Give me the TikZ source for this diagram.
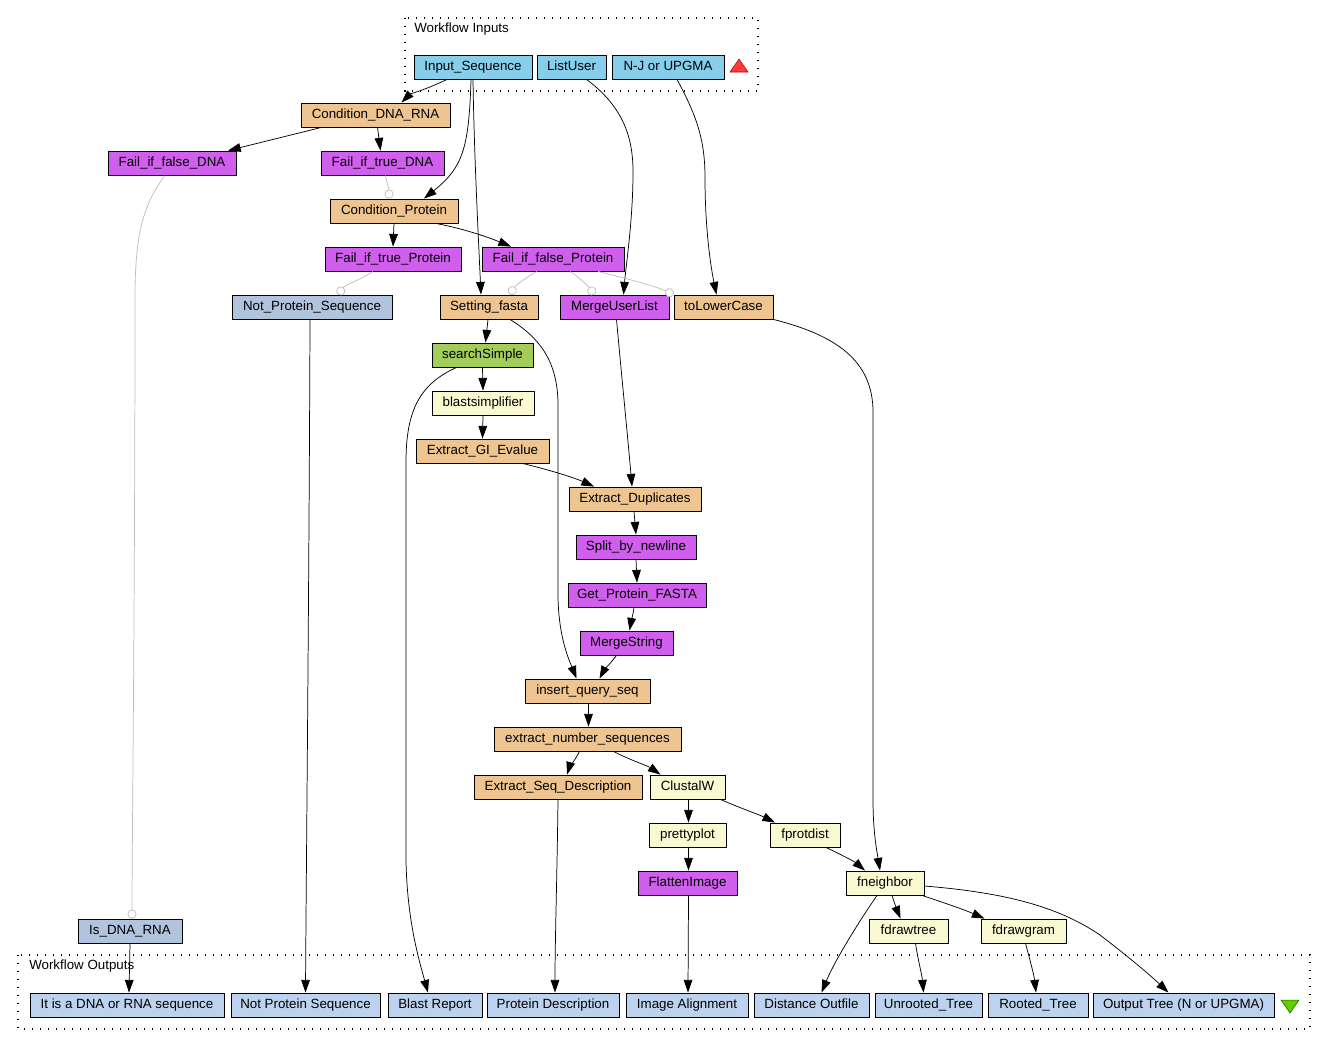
\documentclass[tikz,border=0pt]{standalone}
\usepackage{fontspec}
\setmainfont{Liberation Sans}
\usetikzlibrary{arrows.meta,calc}
\definecolor{inblue}{HTML}{87CEEB}
\definecolor{beige}{HTML}{EEC591}
\definecolor{purp}{HTML}{D15FEE}
\definecolor{steel}{HTML}{B0C4DE}
\definecolor{outblue}{HTML}{BCD2EE}
\definecolor{lgreen}{HTML}{A2CD5A}
\definecolor{lyellow}{HTML}{FAFAD2}
\definecolor{ctrlgray}{HTML}{BEBEBE}
\definecolor{redtri}{HTML}{FF3B3B}
\definecolor{greentri}{HTML}{66CC00}
\begin{document}
\begin{tikzpicture}[x=0.75pt,y=-0.75pt,
  box/.style={draw=black,line width=0.65pt,minimum height=18pt,inner sep=0pt,
    font=\fontsize{10}{12}\selectfont,text height=7.4pt,text depth=2.1pt},
  bw/.style={minimum width=#1*0.75pt},
  inbox/.style={box,fill=inblue},
  orbox/.style={box,fill=beige},
  pubox/.style={box,fill=purp},
  stbox/.style={box,fill=steel},
  outbox/.style={box,fill=outblue},
  grbox/.style={box,fill=lgreen},
  yebox/.style={box,fill=lyellow},
  flow/.style={-{Triangle[length=9.5pt,width=6.5pt]},line width=0.55pt},
  ctl/.style={-{Circle[open,length=6.75pt,fill=white]},draw=ctrlgray,line width=0.55pt},
  cluster/.style={line width=0.9pt,dash pattern=on 0.9pt off 5.1pt},
  lbl/.style={anchor=west,inner sep=0pt,font=\fontsize{10}{12}\selectfont}
]
\useasboundingbox[fill=white] (0,0) rectangle (1327,1057);

% clusters
\draw[cluster] (405,18) rectangle (758,91);
\node[lbl] (inlbl) at (414,29) {Workflow Inputs};
\draw[cluster] (18,955) rectangle (1310,1029);
\node[lbl] (outlbl) at (29,966) {Workflow Outputs};

% triangles
\filldraw[fill=redtri,draw=red!70!black,line width=0.4pt] (730,72) -- (748,72) -- (739,59) -- cycle;
\filldraw[fill=greentri,draw=green!40!black,line width=0.4pt] (1281,1000) -- (1299,1000) -- (1290,1013) -- cycle;

% inputs
\node[inbox,bw=118] (inseq) at (473,67) {Input\_Sequence};
\node[inbox,bw=69] (listuser) at (571.5,67) {ListUser};
\node[inbox,bw=112] (nj) at (668,67) {N-J or UPGMA};

% processors
\node[orbox,bw=149] (cdna) at (375.5,115) {Condition\_DNA\_RNA};
\node[pubox,bw=128] (ffdna) at (172,163) {Fail\_if\_false\_DNA};
\node[pubox,bw=123] (ftdna) at (382.5,163) {Fail\_if\_true\_DNA};
\node[orbox,bw=128] (cprot) at (394,211) {Condition\_Protein};
\node[pubox,bw=136] (ftprot) at (393,259) {Fail\_if\_true\_Protein};
\node[pubox,bw=142] (ffprot) at (553,259) {Fail\_if\_false\_Protein};
\node[stbox,bw=160] (nps) at (312,307) {Not\_Protein\_Sequence};
\node[orbox,bw=98] (setf) at (489,307) {Setting\_fasta};
\node[pubox,bw=109] (mul) at (614.5,307) {MergeUserList};
\node[orbox,bw=99] (tlc) at (723.5,307) {toLowerCase};
\node[grbox,bw=101] (ss) at (482.5,355) {searchSimple};
\node[yebox,bw=102] (bs) at (483,403) {blastsimplifier};
\node[orbox,bw=133] (egi) at (482.5,451) {Extract\_GI\_Evalue};
\node[orbox,bw=132] (edup) at (635,499) {Extract\_Duplicates};
\node[pubox,bw=120] (sbn) at (636,547) {Split\_by\_newline};
\node[pubox,bw=138] (gpf) at (637,595) {Get\_Protein\_FASTA};
\node[pubox,bw=93] (ms) at (626.5,643) {MergeString};
\node[orbox,bw=125] (iqs) at (587.5,691) {insert\_query\_seq};
\node[orbox,bw=187] (ens) at (587.5,739) {extract\_number\_sequences};
\node[orbox,bw=168] (esd) at (558,787) {Extract\_Seq\_Description};
\node[yebox,bw=75] (clu) at (687.5,787) {ClustalW};
\node[yebox,bw=77] (pp) at (687.5,835) {prettyplot};
\node[yebox,bw=70] (fpd) at (805,835) {fprotdist};
\node[pubox,bw=99] (fi) at (687.5,883) {FlattenImage};
\node[yebox,bw=78] (fn) at (885,883) {fneighbor};
\node[yebox,bw=79] (fdt) at (908.5,931) {fdrawtree};
\node[yebox,bw=85] (fdg) at (1023.5,931) {fdrawgram};
\node[stbox,bw=104] (isdna) at (130,931) {Is\_DNA\_RNA};

% outputs
\node[outbox,bw=194] (o1) at (127,1005) {It is a DNA or RNA sequence};
\node[outbox,bw=149] (o2) at (305.5,1005) {Not Protein Sequence};
\node[outbox,bw=94] (o3) at (435,1005) {Blast Report};
\node[outbox,bw=132] (o4) at (553,1005) {Protein Description};
\node[outbox,bw=122] (o5) at (687,1005) {Image Alignment};
\node[outbox,bw=115] (o6) at (811.5,1005) {Distance Outfile};
\node[outbox,bw=107] (o7) at (928.5,1005) {Unrooted\_Tree};
\node[outbox,bw=100] (o8) at (1038,1005) {Rooted\_Tree};
\node[outbox,bw=181] (o9) at (1183.5,1005) {Output Tree (N or UPGMA)};

% data links
\draw[flow] ($(inseq.south)+(-26,0)$) .. controls (425,90) and (410,94) .. ($(cdna.north)+(26,0)$);
\draw[flow] ($(inseq.south)+(-2,0)$) .. controls (469,150) and (462,168) .. ($(cprot.north)+(30,0)$);
\draw[flow] ($(inseq.south)+(0,0)$) .. controls (474,150) and (478,230) .. ($(setf.north)+(-8,0)$);
\draw[flow] ($(listuser.south)+(15,0)$) .. controls (625,108) and (633,140) .. (633,172) .. controls (633,220) and (626,265) .. ($(mul.north)+(9,0)$);
\draw[flow] ($(nj.south)+(9,0)$) .. controls (698,118) and (705,142) .. (705,178) .. controls (705,230) and (711,268) .. ($(tlc.north)+(-7,0)$);
\draw[flow] ($(cdna.south)+(-54,0)$) -- ($(ffdna.north)+(56,0)$);
\draw[flow] ($(cdna.south)+(2,0)$) -- ($(ftdna.north)+(-2,0)$);
\draw[flow] (cprot.south) -- (ftprot.north);
\draw[flow] ($(cprot.south)+(42,0)$) .. controls (470,230) and (495,240) .. ($(ffprot.north)+(-42,0)$);
\draw[flow] ($(setf.south)+(-1,0)$) -- ($(ss.north)+(3,0)$);
\draw[flow] ($(setf.south)+(21,0)$) .. controls (540,338) and (558,362) .. (558,405) -- (558,598) .. controls (559,640) and (570,662) .. ($(iqs.north)+(-11,0)$);
\draw[flow] (ss.south) -- (bs.north);
\draw[flow] ($(ss.south)+(-26,0)$) .. controls (420,384) and (406,410) .. (406,462) -- (406,860) .. controls (407,920) and (419,960) .. ($(o3.north)+(-7,0)$);
\draw[flow] (bs.south) -- (egi.north);
\draw[flow] ($(egi.south)+(40,0)$) .. controls (550,470) and (575,478) .. ($(edup.north)+(-41,0)$);
\draw[flow] ($(mul.south)+(2,0)$) .. controls (622,380) and (628,440) .. ($(edup.north)+(-3,0)$);
\draw[flow] ($(tlc.south)+(50,0)$) .. controls (835,335) and (873,360) .. (873,412) -- (873,800) .. controls (873,832) and (877,852) .. ($(fn.north)+(-5,0)$);
\draw[flow] ($(edup.south)+(-1,0)$) -- (sbn.north);
\draw[flow] (sbn.south) -- (gpf.north);
\draw[flow] ($(gpf.south)+(-3,0)$) .. controls (633,615) and (631,622) .. ($(ms.north)+(3,0)$);
\draw[flow] ($(ms.south)+(-10,0)$) .. controls (610,664) and (604,670) .. ($(iqs.north)+(12,0)$);
\draw[flow] ($(iqs.south)+(1,0)$) -- ($(ens.north)+(1,0)$);
\draw[flow] ($(ens.south)+(-8,0)$) .. controls (574,762) and (569,768) .. ($(esd.north)+(9,0)$);
\draw[flow] ($(ens.south)+(26,0)$) .. controls (630,760) and (648,766) .. ($(clu.north)+(-27,0)$);
\draw[flow] ($(nps.south)+(-2,0)$) .. controls (309,600) and (306,900) .. ($(o2.north)+(0,0)$);
\draw[flow] ($(esd.south)+(0,0)$) .. controls (557,880) and (555,940) .. ($(o4.north)+(2,0)$);
\draw[flow] ($(clu.south)+(1,0)$) -- ($(pp.north)+(1,0)$);
\draw[flow] ($(clu.south)+(33,0)$) .. controls (740,808) and (760,815) .. ($(fpd.north)+(-30,0)$);
\draw[flow] ($(pp.south)+(1,0)$) -- ($(fi.north)+(1,0)$);
\draw[flow] ($(fpd.south)+(21,0)$) .. controls (842,855) and (855,862) .. ($(fn.north)+(-20,0)$);
\draw[flow] ($(fi.south)+(1,0)$) -- ($(o5.north)+(1,0)$);
\draw[flow] ($(fn.south)+(-8,0)$) .. controls (860,920) and (835,960) .. ($(o6.north)+(10,0)$);
\draw[flow] ($(fn.south)+(7,0)$) .. controls (895,905) and (897,910) .. ($(fdt.north)+(-8,0)$);
\draw[flow] ($(fn.south)+(37,0)$) .. controls (945,903) and (965,910) .. ($(fdg.north)+(-39,0)$);
\draw[flow] ($(fn.east)+(0,3)$) .. controls (1010,893) and (1060,908) .. (1100,935) .. controls (1130,958) and (1150,975) .. ($(o9.north)+(-15,0)$);
\draw[flow] ($(fdt.south)+(7,0)$) .. controls (918,960) and (922,975) .. ($(o7.north)+(-5,0)$);
\draw[flow] ($(fdg.south)+(2,0)$) .. controls (1030,960) and (1034,975) .. ($(o8.north)+(-2,0)$);
\draw[flow] (isdna.south) -- ($(o1.north)+(2,0)$);

% control links
\draw[ctl] ($(ftdna.south)+(3,0)$) .. controls (387,184) and (389,188) .. ($(cprot.north)+(-5,0)$);
\draw[ctl] ($(ffdna.south)+(-7,0)$) .. controls (141,207) and (135,240) .. (135,300) .. controls (135,600) and (132,850) .. ($(isdna.north)+(2,0)$);
\draw[ctl] ($(ftprot.south)+(-20,0)$) .. controls (360,280) and (345,285) .. ($(nps.north)+(26,0)$);
\draw[ctl] ($(ffprot.south)+(-16,0)$) .. controls (525,278) and (515,286) .. ($(setf.north)+(21,0)$);
\draw[ctl] ($(ffprot.south)+(17,0)$) .. controls (580,278) and (588,286) .. ($(mul.north)+(-20,0)$);
\draw[ctl] ($(ffprot.south)+(45,0)$) .. controls (625,278) and (655,286) .. (tlc.north west);
\end{tikzpicture}
\end{document}
